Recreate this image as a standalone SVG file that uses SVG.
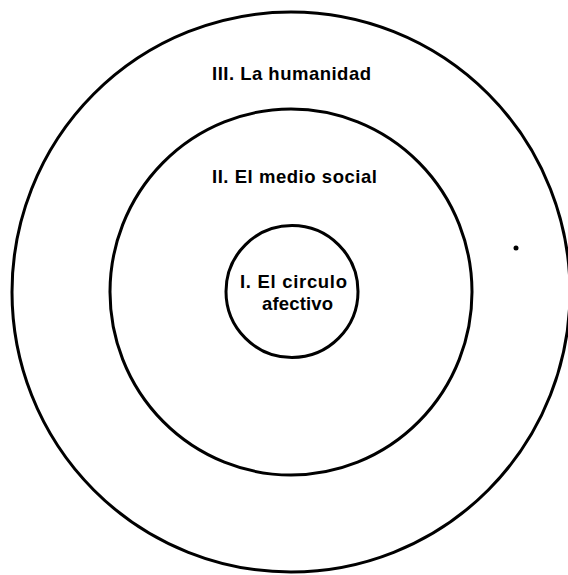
<svg xmlns="http://www.w3.org/2000/svg" width="568" height="575" viewBox="0 0 568 575">
  <style>
    .ring { fill: none; stroke: #000; stroke-width: 3; }
    .lbl { font-family: "Liberation Sans", Arial, sans-serif; font-size: 18.5px; font-weight: bold; fill: #000; }
  </style>
  <rect width="568" height="575" fill="#fff"/>
  <g id="outer">
    <ellipse class="ring" cx="291" cy="292" rx="279" ry="280"/>
    <text class="lbl" x="212" y="80" textLength="159" lengthAdjust="spacing">III. La humanidad</text>
  </g>
  <g id="middle">
    <ellipse class="ring" cx="291" cy="292" rx="181" ry="183"/>
    <text class="lbl" x="212" y="183" textLength="165" lengthAdjust="spacing">II. El medio social</text>
  </g>
  <g id="inner">
    <circle class="ring" cx="292" cy="291.5" r="66"/>
    <text class="lbl" x="240" y="288" textLength="107" lengthAdjust="spacing">I.  El circulo</text>
    <text class="lbl" x="262" y="310" textLength="71" lengthAdjust="spacing">afectivo</text>
  </g>
  <g id="connectors"></g>
  <circle cx="516" cy="248" r="2.5" fill="#000"/>
</svg>
